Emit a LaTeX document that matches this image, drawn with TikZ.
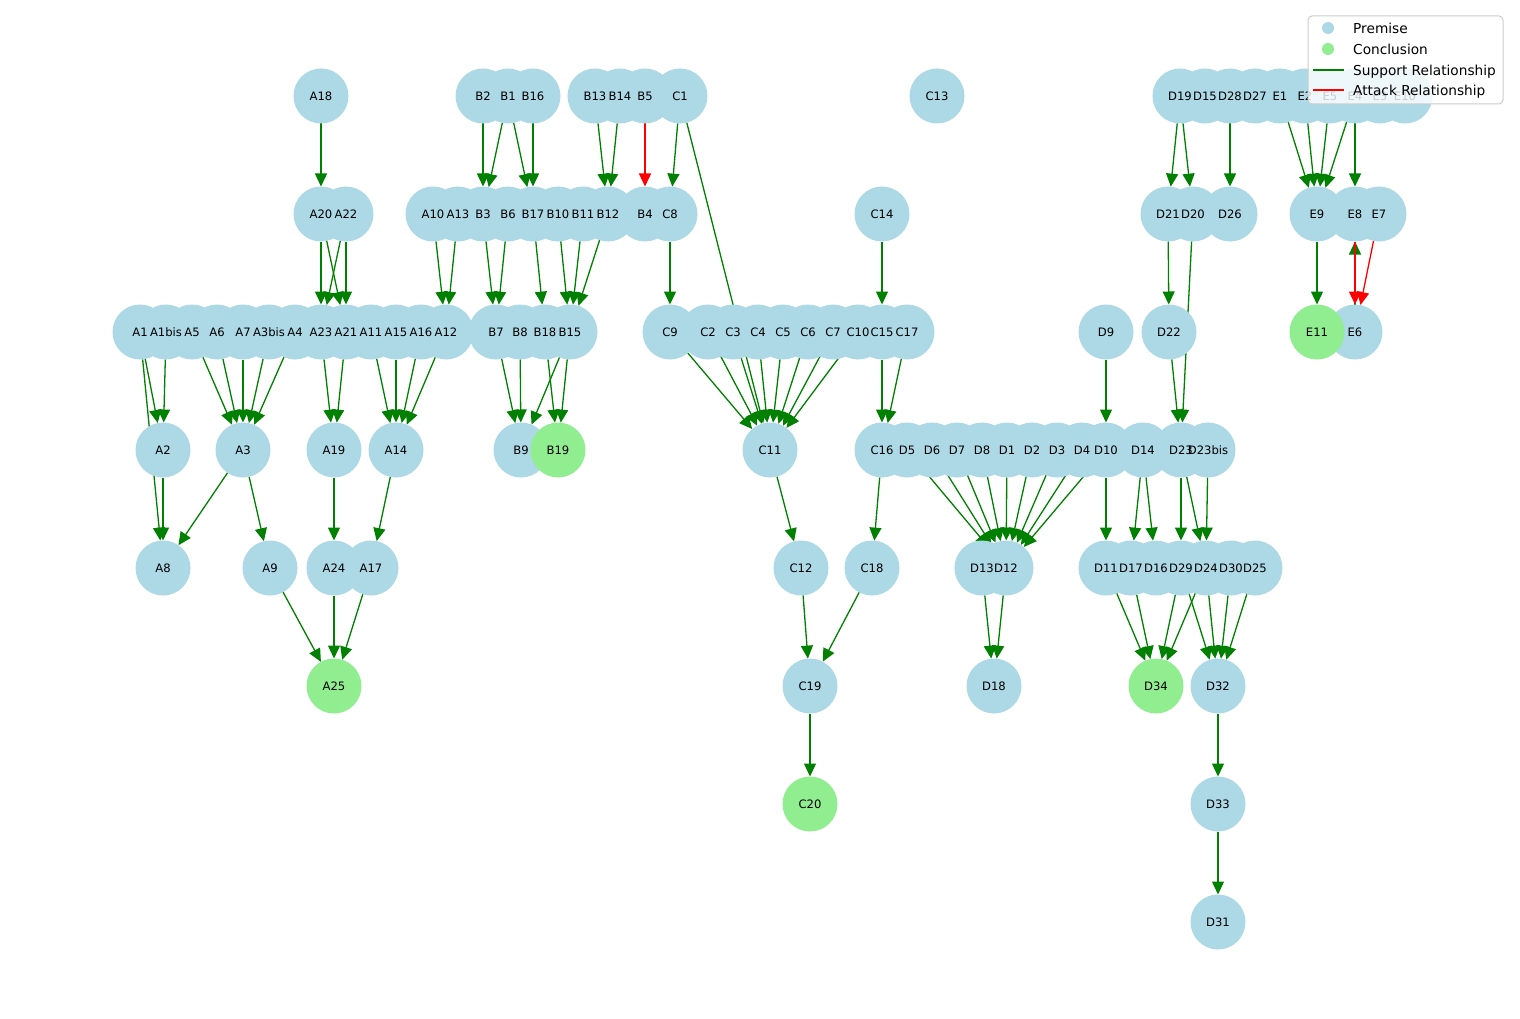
\documentclass[tikz,border=0pt]{standalone}
\usepackage{fontspec}
\setmainfont{DejaVu Sans}
\usetikzlibrary{arrows.meta,backgrounds}
\definecolor{premcol}{HTML}{ADD8E6}
\definecolor{conccol}{HTML}{90EE90}
\definecolor{supcol}{HTML}{008000}
\definecolor{attcol}{HTML}{FF0000}
\definecolor{legframe}{HTML}{CCCCCC}

\begin{document}
\begin{tikzpicture}[x=1pt,y=-1pt,
  premise/.style={circle,fill=premcol,minimum size=55pt,inner sep=0pt,outer sep=0pt},
  conclusion/.style={premise,fill=conccol},
  nodelabel/.style={font=\fontsize{11.6}{12}\selectfont,inner sep=0pt,text height=0.73em,text depth=0pt,yshift=-1pt},
  support/.style={draw=supcol,line width=1.3pt,-{Triangle[length=13pt,width=12pt]}},
  attack/.style={draw=attcol,line width=1.3pt,-{Triangle[length=13pt,width=12pt]}},
  legtext/.style={font=\fontsize{13.7}{14}\selectfont,anchor=west,inner sep=0pt,text height=0.73em,text depth=0pt,yshift=-2pt},
]
\useasboundingbox (0,0) rectangle (1520,1019);

% premises
\foreach \n/\x/\y in {
 A18/321/96, B2/483/96, B1/508/96, B16/533/96, B13/595/96, B14/620/96, B5/645/96, C1/680/96, C13/937/96,
 D19/1180/96, D15/1205/96, D28/1230/96, D27/1255/96, E1/1280/96, E2/1305/96, E5/1330/96, E4/1355/96, E3/1380/96, E10/1405/96,
 A20/321/214, A22/346/214, A10/433/214, A13/458/214, B3/483/214, B6/508/214, B17/533/214, B10/558/214, B11/583/214, B12/608/214, B4/645/214, C8/670/214, C14/882/214, D21/1168/214, D20/1193/214, D26/1230/214, E9/1317/214, E8/1355/214, E7/1379/214,
 A1/140/332, A1bis/166/332, A5/192/332, A6/217/332, A7/243/332, A3bis/269/332, A4/295/332, A23/321/332, A21/346/332, A11/371/332, A15/396/332, A16/421/332, A12/446/332,
 B7/496/332, B8/520/332, B18/545/332, B15/570/332,
 C9/670/332, C2/708/332, C3/733/332, C4/758/332, C5/783/332, C6/808/332, C7/833/332, C10/858/332, C15/882/332, C17/907/332,
 D9/1106/332, D22/1169/332, E6/1355/332,
 A2/163/450, A3/243/450, A19/334/450, A14/396/450, B9/521/450, C11/770/450,
 C16/882/450, D5/907/450, D6/932/450, D7/957/450, D8/982/450, D1/1007/450, D2/1032/450, D3/1057/450, D4/1082/450, D10/1106/450, D14/1143/450, D23/1181/450, D23bis/1208/450,
 A8/163/568, A9/270/568, A24/334/568, A17/371/568, C12/801/568, C18/872/568, D13/982/568, D12/1006/568,
 D11/1106/568, D17/1131/568, D16/1156/568, D29/1181/568, D24/1206/568, D30/1231/568, D25/1255/568,
 C19/810/686, D18/994/686, D32/1218/686, D33/1218/804, D31/1218/922}
  \node[premise] (\n) at (\x,\y) {};

% conclusions
\foreach \n/\x/\y in {B19/558/450, E11/1317/332, A25/334/686, C20/810/804, D34/1156/686}
  \node[conclusion] (\n) at (\x,\y) {};

% labels
\foreach \n in {A18,B2,B1,B16,B13,B14,B5,C1,C13,D19,D15,D28,D27,E1,E2,E5,E4,E3,E10,
 A20,A22,A10,A13,B3,B6,B17,B10,B11,B12,B4,C8,C14,D21,D20,D26,E9,E8,E7,
 A1,A1bis,A5,A6,A7,A3bis,A4,A23,A21,A11,A15,A16,A12,B7,B8,B18,B15,
 C9,C2,C3,C4,C5,C6,C7,C10,C15,C17,D9,D22,E6,E11,
 A2,A3,A19,A14,B9,B19,C11,C16,D5,D6,D7,D8,D1,D2,D3,D4,D10,D14,D23,D23bis,
 A8,A9,A24,A17,C12,C18,D13,D12,D11,D17,D16,D29,D24,D30,D25,
 A25,C19,D18,D34,D32,C20,D33,D31}
  \node[nodelabel] (\n-t) at (\n) {\n};

% relations, beneath the nodes
\begin{scope}[on background layer]
\fill[white] (0,0) rectangle (1520,1019);
\foreach \a/\b in {
 A18/A20, A20/A23, A20/A21, A22/A23, A22/A21, A10/A12, A13/A12,
 A1/A2, A1bis/A2, A1/A8, A5/A3, A6/A3, A7/A3, A3bis/A3, A4/A3, A23/A19, A21/A19,
 A11/A14, A15/A14, A16/A14, A12/A14,
 A2/A8, A3/A8, A3/A9, A19/A24, A14/A17, A9/A25, A24/A25, A17/A25,
 B2/B3, B1/B3, B1/B17, B16/B17, B13/B12, B14/B12, C1/C8, C1/C11,
 B3/B7, B6/B7, B17/B18, B10/B15, B11/B15, B12/B15, C8/C9,
 B7/B9, B8/B9, B15/B9, B18/B19, B15/B19,
 C9/C11, C2/C11, C3/C11, C4/C11, C5/C11, C6/C11, C7/C11, C10/C11,
 C14/C15, C15/C16, C17/C16, C11/C12, C16/C18, C12/C19, C18/C19, C19/C20,
 D5/D12, D6/D12, D7/D12, D8/D12, D1/D12, D2/D12, D3/D12, D4/D12, D10/D12,
 D13/D18, D12/D18, D9/D10,
 D19/D21, D19/D20, D28/D26, D21/D22, D22/D23, D20/D23,
 D10/D11, D14/D17, D14/D16, D23/D29, D23/D24, D23bis/D24,
 D11/D34, D17/D34, D29/D34, D24/D34, D29/D32, D24/D32, D30/D32, D25/D32,
 D32/D33, D33/D31,
 E1/E9, E2/E9, E5/E9, E4/E9, E4/E8, E9/E11, E6/E8}
  \draw[support] (\a) -- (\b);
\foreach \a/\b in {B5/B4, E8/E6, E7/E6}
  \draw[attack] (\a) -- (\b);
\end{scope}

% legend
\node[draw=legframe,line width=1pt,fill=white,fill opacity=0.8,rounded corners=4pt,
      minimum width=195pt,minimum height=88pt,inner sep=0pt] (legend) at (1405.5,60) {};
\node[circle,fill=premcol,minimum size=12pt,inner sep=0pt] (legprem) at (1328,28) {};
\node[legtext] (legpremt) at (1353,28) {Premise};
\node[circle,fill=conccol,minimum size=12pt,inner sep=0pt] (legconc) at (1328,49) {};
\node[legtext] (legconct) at (1353,49) {Conclusion};
\coordinate (legsupA) at (1313,70);
\coordinate (legsupB) at (1344,70);
\draw[supcol,line width=2pt] (legsupA) -- (legsupB);
\node[legtext] (legsupt) at (1353,70) {Support Relationship};
\coordinate (legattA) at (1313,90);
\coordinate (legattB) at (1344,90);
\draw[attcol,line width=2pt] (legattA) -- (legattB);
\node[legtext] (legattt) at (1353,90) {Attack Relationship};
\end{tikzpicture}
\end{document}
